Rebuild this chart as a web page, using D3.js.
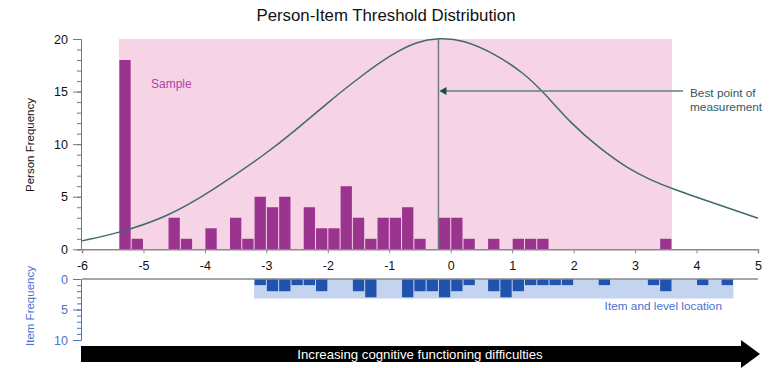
<!DOCTYPE html>
<html>
  <head>
    <script src="https://d3js.org/d3.v7.min.js"></script>
    <style>
      body { margin: 0; background: #fff; }
      text { font-family: "Liberation Sans", Arial, Helvetica, sans-serif; }
    </style>
  </head>
  <body>
    <svg id="chart" width="769" height="368"></svg>
    <script>
      // person histogram: left edge of each 0.2-wide bin and its count
      const personX = [-5.4, -5.2, -4.6, -4.4, -4.0, -3.6, -3.4, -3.2, -3.0, -2.8, -2.4, -2.2, -2.0, -1.8,
                       -1.6, -1.4, -1.2, -1.0, -0.8, -0.6, -0.2, 0.0, 0.2, 0.6, 1.0, 1.2, 1.4, 3.4];
      const personCount = [18, 1, 3, 1, 2, 3, 1, 5, 4, 5, 4, 2, 2, 6,
                           3, 1, 3, 3, 4, 1, 3, 3, 1, 1, 1, 1, 1, 1];

      // item histogram (drawn downward)
      const itemX = [-3.2, -3.0, -2.8, -2.6, -2.4, -2.2, -1.6, -1.4, -0.8, -0.6, -0.4, -0.2, 0.0,
                     0.2, 0.6, 0.8, 1.0, 1.2, 1.4, 1.6, 1.8, 2.4, 3.2, 3.4, 4.0, 4.4];
      const itemCount = [1, 2, 2, 1, 1, 2, 2, 3, 3, 2, 2, 3, 2,
                         1, 2, 3, 2, 1, 1, 1, 1, 1, 1, 2, 1, 1];

      // information curve, points
      const curveX = [-6.0, -5.4, -4.6, -3.9, -3.0, -2.55, -2.0, -1.5, -0.95, -0.55, -0.2,
                      0.2, 0.75, 1.2, 1.5, 1.95, 2.4, 2.9, 3.25, 3.6, 4.3, 5.0];
      const curveY = [0.8, 1.55, 3.1, 5.5, 9.1, 11.2, 13.95, 16.3, 18.6, 19.75, 20.1,
                      19.95, 18.5, 16.7, 15.0, 12.0, 9.7, 7.6, 6.6, 5.75, 4.35, 2.95];

      const sampleRange = [-5.4, 3.6];
      const itemRange = [-3.2, 4.6];
      const itemBandDepth = 3.2;
      const bestPoint = -0.2;
      const binWidth = 0.2;

      const xTicks = d3.range(-6, 6);
      const personTicks = [0, 5, 10, 15, 20];
      const itemTicks = [0, 5, 10];

      const svg = d3.select("#chart");

      const x = d3.scaleLinear().domain([-6, 5]).range([82, 758]);
      const yTop = d3.scaleLinear().domain([0, 20]).range([249.3, 39]);
      const yBot = d3.scaleLinear().domain([0, 10]).range([279, 340]);

      // title
      svg.append("text")
        .attr("x", 386).attr("y", 21)
        .attr("text-anchor", "middle")
        .style("font-size", "16.8px")
        .attr("fill", "#111")
        .text("Person-Item Threshold Distribution");

      // sample background
      svg.append("rect")
        .attr("x", x(sampleRange[0]))
        .attr("y", yTop(20))
        .attr("width", x(sampleRange[1]) - x(sampleRange[0]))
        .attr("height", yTop(0) - yTop(20))
        .attr("fill", "#f6d4e5");

      svg.append("text")
        .attr("x", 151).attr("y", 88)
        .style("font-size", "12px")
        .attr("fill", "#b043a6")
        .text("Sample");

      // person bars
      svg.selectAll(".pbar")
        .data(personX.map((v, i) => ({x: v, c: personCount[i]})))
        .join("rect")
          .attr("class", "pbar")
          .attr("x", d => x(d.x) + 0.5)
          .attr("y", d => yTop(d.c))
          .attr("width", d => x(d.x + binWidth) - x(d.x) - 1)
          .attr("height", d => yTop(0) - yTop(d.c))
          .attr("fill", "#9b348f");

      // vertical line at best point
      svg.append("line")
        .attr("x1", x(bestPoint)).attr("x2", x(bestPoint))
        .attr("y1", yTop(20)).attr("y2", yTop(0))
        .attr("stroke", "#6c7c80").attr("stroke-width", 1.5);

      // curve
      const line = d3.line()
        .x(d => x(d[0]))
        .y(d => yTop(d[1]))
        .curve(d3.curveBasis);
      svg.append("path")
        .datum(curveX.map((v, i) => [v, curveY[i]]))
        .attr("d", line)
        .attr("fill", "none")
        .attr("stroke", "#3f6a70")
        .attr("stroke-width", 1.5);

      // annotation arrow
      const ay = 91;
      svg.append("line")
        .attr("x1", x(bestPoint) + 6).attr("x2", 683)
        .attr("y1", ay).attr("y2", ay)
        .attr("stroke", "#5e7f83").attr("stroke-width", 1.5);
      svg.append("path")
        .attr("d", `M${x(bestPoint) + 1},${ay} L${x(bestPoint) + 8},${ay - 4} L${x(bestPoint) + 8},${ay + 4} Z`)
        .attr("fill", "#1e4a4e");
      svg.append("text")
        .attr("x", 690).attr("y", 97)
        .style("font-size", "11.8px")
        .attr("fill", "#2f5b5c")
        .text("Best point of");
      svg.append("text")
        .attr("x", 690).attr("y", 111)
        .style("font-size", "11.8px")
        .attr("fill", "#2f5b5c")
        .text("measurement");

      // top x axis
      const xAxis = svg.append("g")
        .attr("transform", `translate(0,${yTop(0)})`)
        .call(d3.axisBottom(x).tickValues(xTicks).tickSize(4).tickPadding(8).tickFormat(d3.format("d")));
      xAxis.select(".domain").attr("stroke", "#8a8a8a").attr("stroke-width", 1.5);
      xAxis.selectAll(".tick line").attr("stroke", "#8a8a8a");
      xAxis.selectAll(".tick text").attr("fill", "#111").style("font-size", "12.5px")
        .text(d => d < 0 ? "-" + Math.abs(d) : d);

      // top y axis
      const yAxisG = svg.append("g").attr("transform", "translate(81,0)");
      yAxisG.call(d3.axisLeft(yTop).tickValues(d3.range(0, 21)).tickSize(4).tickFormat(""));
      yAxisG.call(g => g.selectAll(".tick line").attr("stroke", "#777"));
      yAxisG.append("g")
        .call(d3.axisLeft(yTop).tickValues(personTicks).tickSize(8).tickPadding(5))
        .call(g => g.select(".domain").remove())
        .call(g => g.selectAll(".tick line").attr("stroke", "#777"))
        .call(g => g.selectAll(".tick text").attr("fill", "#111").style("font-size", "12.5px"));
      yAxisG.select(".domain").attr("stroke", "#777");

      svg.append("text")
        .attr("transform", "translate(34,145) rotate(-90)")
        .attr("text-anchor", "middle")
        .style("font-size", "11.5px")
        .attr("fill", "#111")
        .text("Person Frequency");

      // item band and bars
      svg.append("rect")
        .attr("x", x(itemRange[0]))
        .attr("y", yBot(0))
        .attr("width", x(itemRange[1]) - x(itemRange[0]))
        .attr("height", yBot(itemBandDepth) - yBot(0))
        .attr("fill", "#c4d3ee");

      svg.selectAll(".ibar")
        .data(itemX.map((v, i) => ({x: v, c: itemCount[i]})))
        .join("rect")
          .attr("class", "ibar")
          .attr("x", d => x(d.x) + 0.5)
          .attr("y", yBot(0))
          .attr("width", d => x(d.x + binWidth) - x(d.x) - 1)
          .attr("height", d => yBot(d.c) - yBot(0))
          .attr("fill", "#1f53ad");

      svg.append("line")
        .attr("x1", x(-6)).attr("x2", x(5))
        .attr("y1", yBot(0)).attr("y2", yBot(0))
        .attr("stroke", "#8a8a8a").attr("stroke-width", 1.5);

      svg.append("text")
        .attr("x", 722).attr("y", 310)
        .attr("text-anchor", "end")
        .style("font-size", "11.8px")
        .attr("fill", "#4a72cf")
        .text("Item and level location");

      // bottom y axis
      const yBotG = svg.append("g").attr("transform", "translate(81,0)");
      yBotG.call(d3.axisLeft(yBot).tickValues(d3.range(0, 11)).tickSize(4).tickFormat(""));
      yBotG.call(g => g.selectAll(".tick line").attr("stroke", "#4a72cf"));
      yBotG.select(".domain").attr("stroke", "#4a72cf");
      yBotG.append("g")
        .call(d3.axisLeft(yBot).tickValues(itemTicks).tickSize(8).tickPadding(5))
        .call(g => g.select(".domain").remove())
        .call(g => g.selectAll(".tick line").attr("stroke", "#4a72cf"))
        .call(g => g.selectAll(".tick text").attr("fill", "#4a72cf").style("font-size", "12.5px"));

      svg.append("text")
        .attr("transform", "translate(34,306) rotate(-90)")
        .attr("text-anchor", "middle")
        .style("font-size", "11.5px")
        .attr("fill", "#4a72cf")
        .text("Item Frequency");

      // direction arrow
      const arrowEnd = x(5) + 2;
      svg.append("path")
        .attr("d", `M${x(-6) - 1},346 L741,346 L741,340 L${arrowEnd},354 L741,368 L741,362 L${x(-6) - 1},362 Z`)
        .attr("fill", "#000");
      svg.append("text")
        .attr("x", 420).attr("y", 358.5)
        .attr("text-anchor", "middle")
        .style("font-size", "13.2px")
        .attr("fill", "#fff")
        .text("Increasing cognitive functioning difficulties");
    </script>
  </body>
</html>
